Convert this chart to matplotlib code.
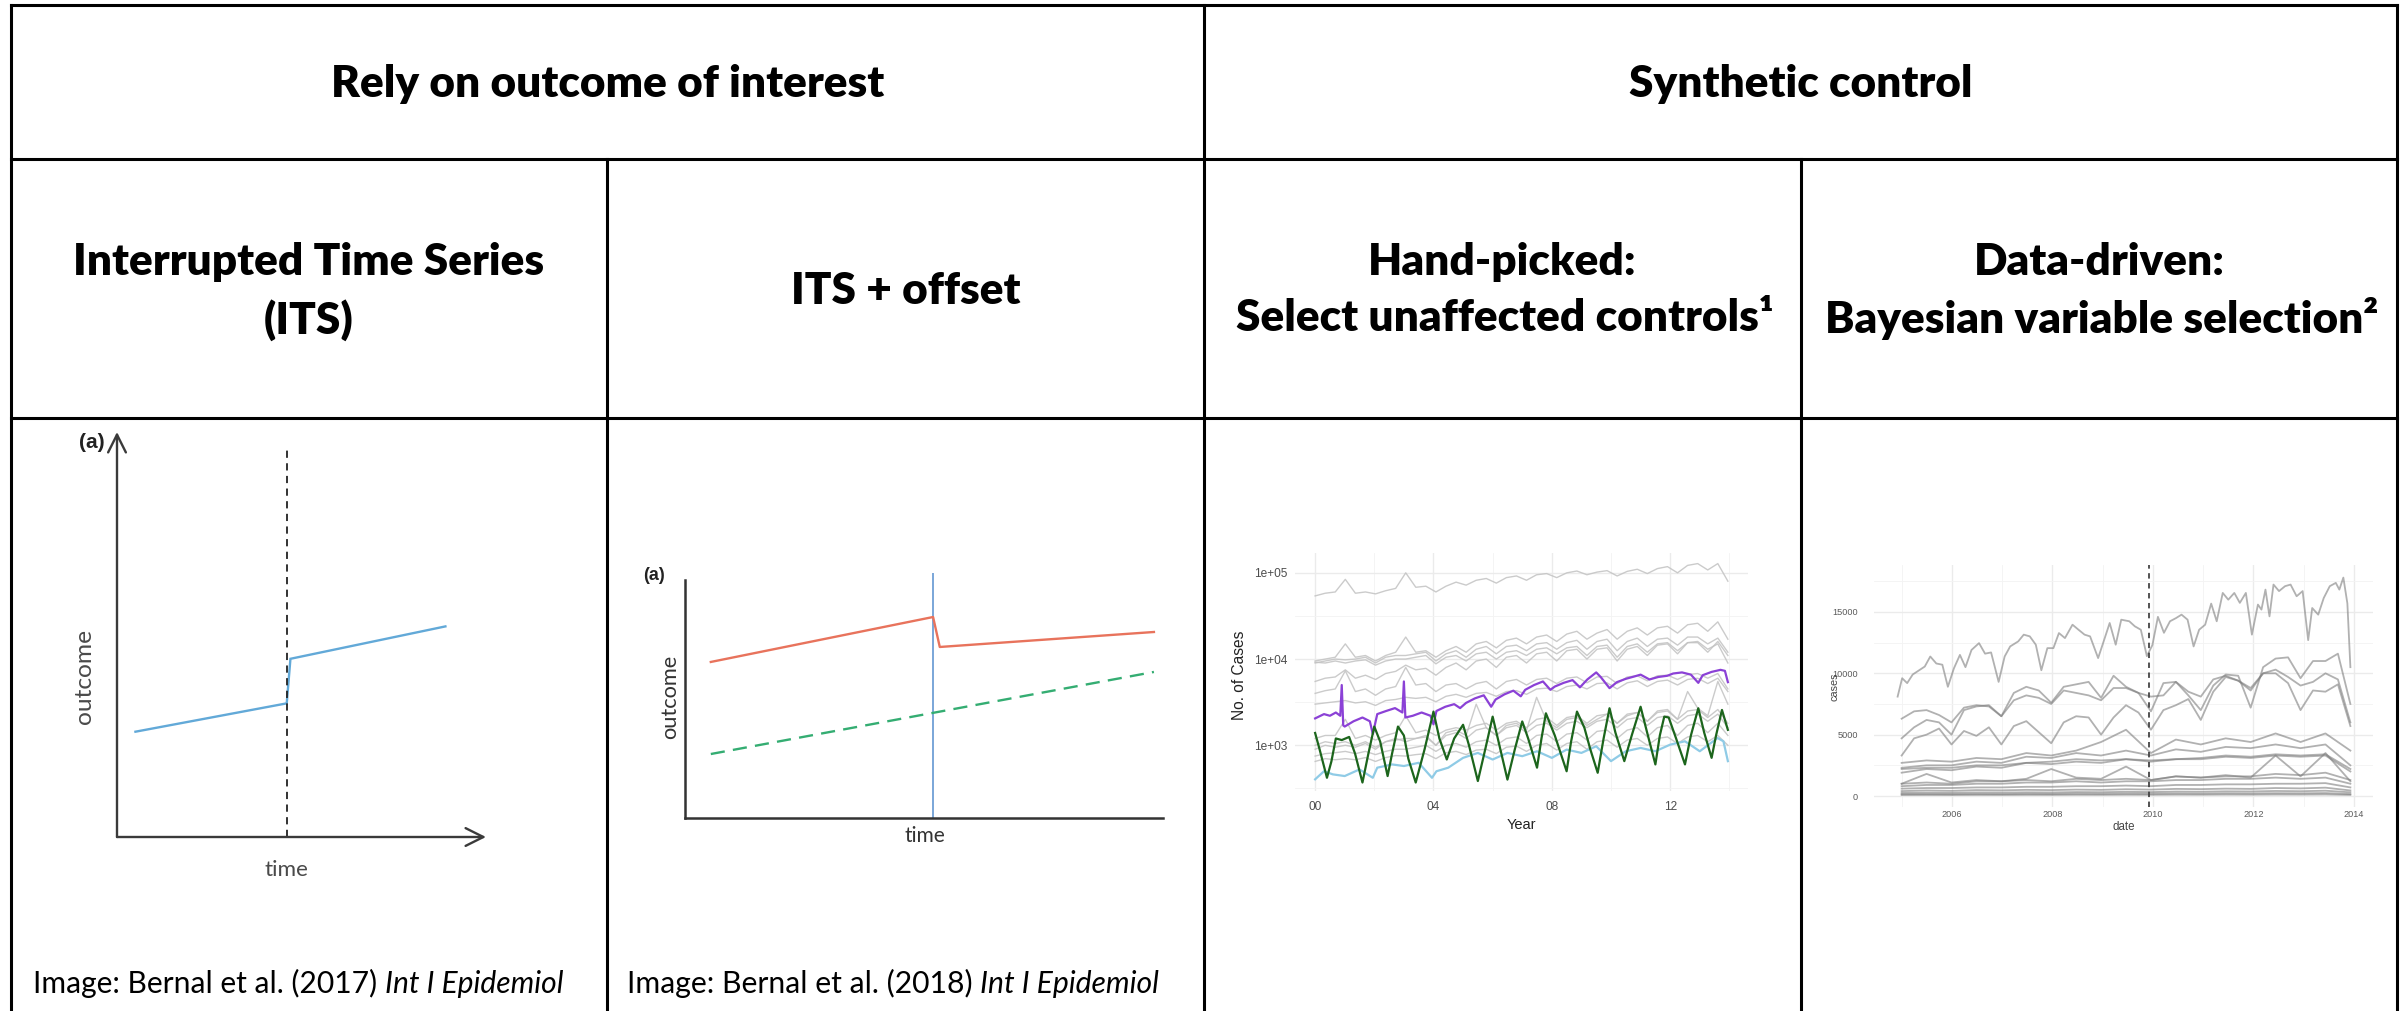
import numpy as np
import matplotlib
matplotlib.use("Agg")
import matplotlib.pyplot as plt
from matplotlib.lines import Line2D
from matplotlib.ticker import NullFormatter

# ---------------------------------------------------------------- data
# ITS schematic (arbitrary units)
its_time = [0.5, 4.6, 4.7, 8.9]
its_outcome = [2.6, 3.3, 4.4, 5.2]
its_break = 4.6
its_break_top = 9.6

# ITS + offset schematic
off_time = [0.54, 5.19, 5.33, 9.81]
off_outcome = [6.56, 8.45, 7.19, 7.82]
ctrl_time = [0.54, 9.81]
ctrl_outcome = [2.69, 6.14]
off_break = 5.19

# Hand-picked controls: monthly case counts (log scale), 2000-2013
hp_year_ticks = [2000, 2004, 2008, 2012]
hp_year_labels = ["00", "04", "08", "12"]
hp_case_ticks = [1e3, 1e4, 1e5]
hp_case_labels = ["1e+03", "1e+04", "1e+05"]

hp_controls = [
    [54000, 58000, 60000, 84000, 58000, 60000, 57000, 62000, 66000, 100000, 68000, 70000, 60000, 70000,
     78000, 72000, 82000, 86000, 76000, 88000, 92000, 82000, 95000, 98000, 88000, 100000, 105000, 95000,
     102000, 106000, 92000, 104000, 110000, 98000, 112000, 118000, 100000, 122000, 128000, 108000, 128000, 80000],
    [9500, 10000, 10500, 15000, 10500, 11000, 9500, 11000, 12000, 18000, 12000, 12500, 10500, 12500,
     14000, 12000, 15000, 16000, 13500, 16500, 17500, 15000, 18000, 19000, 16000, 19500, 21000, 17000,
     20000, 22000, 17000, 21000, 23000, 19000, 23000, 24000, 20000, 25000, 26000, 21000, 27000, 17000],
    [9000, 9500, 10000, 9800, 10000, 10500, 9000, 10500, 11000, 11000, 11500, 12000, 9500, 11500,
     12500, 10500, 13000, 14000, 11500, 14000, 14500, 12500, 15000, 15500, 13000, 15500, 16500, 13000,
     16000, 17000, 12500, 16000, 17500, 14000, 17000, 17500, 14500, 18000, 18000, 15000, 17500, 12000],
    [9200, 9000, 9500, 9000, 9500, 9800, 8500, 9500, 10000, 10000, 10500, 11000, 8800, 10500,
     11000, 9500, 11500, 12000, 10000, 12000, 12500, 11000, 13000, 13500, 11500, 13500, 14000, 11000,
     14000, 14500, 10500, 14000, 15000, 12000, 15000, 15500, 12500, 15500, 16000, 13000, 15000, 9000],
    [5500, 6000, 6200, 7500, 6000, 6500, 5800, 6800, 7200, 8500, 7500, 7800, 6500, 8000,
     9000, 7500, 9500, 10000, 8000, 10500, 11000, 9000, 11500, 12000, 9500, 12500, 13000, 10000,
     13000, 13500, 9500, 13000, 14000, 11000, 14500, 15000, 11500, 15500, 15500, 12000, 16000, 11000],
    [4000, 4300, 4500, 7300, 4200, 4500, 3800, 4500, 4800, 8000, 5000, 5200, 4200, 5000,
     5200, 4500, 5200, 5500, 4500, 5500, 5800, 5000, 5800, 6000, 5200, 6000, 6200, 5300,
     6200, 6300, 5200, 6200, 6400, 5600, 6400, 6500, 5800, 6600, 6800, 6000, 6800, 4500],
    [3000, 3100, 3200, 3300, 3100, 3200, 2900, 3300, 3400, 3600, 3500, 3600, 3200, 3700,
     3900, 3600, 4000, 4100, 3700, 4200, 4300, 3900, 4500, 4600, 4200, 4800, 5000, 4500,
     5200, 5300, 4500, 5300, 5600, 4800, 5500, 5700, 5000, 5800, 6000, 5200, 6000, 4200],
    [1200, 1300, 1300, 2000, 1200, 1300, 1150, 1300, 1400, 2200, 1400, 1500, 1300, 1500,
     1600, 1500, 1700, 1800, 1500, 1800, 1900, 1600, 2000, 2100, 1700, 2100, 2200, 1800,
     2200, 2300, 1800, 2300, 2400, 1900, 2400, 2500, 2000, 2500, 2600, 2100, 2600, 1800],
    [1000, 1100, 1050, 1100, 1000, 1100, 950, 1100, 1150, 1200, 1200, 1250, 1000, 1300,
     1400, 1200, 1500, 1600, 1300, 1600, 1700, 1400, 1700, 1800, 1500, 1800, 1900, 1600,
     1900, 2000, 1600, 2000, 2100, 1700, 2100, 2200, 1800, 2200, 2300, 1900, 2300, 1600],
    [900, 1000, 950, 1000, 950, 1050, 900, 1100, 1200, 1100, 1200, 1300, 1000, 1400,
     1500, 1300, 3000, 1600, 1300, 1700, 1800, 1500, 3600, 1900, 1600, 2000, 2100, 1700,
     2000, 2300, 1800, 2200, 2400, 1900, 2500, 2600, 2000, 4200, 2700, 2200, 5500, 3000],
    [750, 800, 820, 850, 800, 850, 780, 850, 900, 900, 950, 1000, 850, 1000,
     1050, 950, 1100, 1150, 1000, 1200, 1250, 1050, 1300, 1350, 1100, 1350, 1400, 1150,
     1450, 1500, 1200, 1500, 1600, 1250, 1600, 1700, 1300, 1700, 1800, 1400, 1800, 1300],
    [650, 700, 680, 700, 680, 720, 650, 720, 760, 750, 780, 800, 700, 820,
     850, 780, 880, 900, 800, 950, 980, 850, 1000, 1050, 880, 1050, 1100, 900,
     1100, 1150, 950, 1150, 1200, 1000, 1200, 1250, 1050, 1250, 1300, 1100, 1300, 1000],
]

purple_years = [2000.0, 2000.3, 2000.5, 2000.7, 2000.85, 2000.9, 2000.95, 2001.0, 2001.3, 2001.6,
                2001.85, 2001.95, 2002.1, 2002.4, 2002.7, 2002.95, 2003.0, 2003.05, 2003.3, 2003.6,
                2003.9, 2004.0, 2004.1, 2004.4, 2004.7, 2004.9, 2005.1, 2005.4, 2005.7, 2005.95,
                2006.1, 2006.4, 2006.7, 2006.95, 2007.1, 2007.4, 2007.7, 2007.95, 2008.1, 2008.4,
                2008.7, 2008.95, 2009.2, 2009.5, 2009.65, 2009.95, 2010.2, 2010.5, 2010.8, 2011.0,
                2011.3, 2011.6, 2011.9, 2012.1, 2012.4, 2012.7, 2012.95, 2013.1, 2013.4, 2013.7,
                2013.85, 2013.95]
purple_cases = [2050, 2300, 2200, 2400, 2200, 5000, 1700, 1650, 1900, 2100,
                1900, 1350, 2300, 2500, 2700, 2400, 5500, 2100, 2200, 2400,
                2200, 1750, 2500, 2800, 3000, 2700, 3100, 3500, 3800, 2800,
                3400, 3900, 4300, 3700, 4400, 5000, 5500, 4400, 4800, 5300,
                5700, 4700, 5800, 7000, 6200, 4600, 5400, 5900, 6300, 6600,
                5800, 6200, 6400, 6800, 7000, 6600, 5300, 6500, 7100, 7500,
                7300, 5400]

green_years = [2000.0, 2000.15, 2000.4, 2000.55, 2000.7, 2000.9, 2001.15, 2001.35, 2001.6, 2001.8,
               2002.0, 2002.2, 2002.45, 2002.6, 2002.8, 2003.0, 2003.15, 2003.4, 2003.7, 2004.0,
               2004.2, 2004.45, 2004.7, 2005.0, 2005.2, 2005.5, 2005.75, 2006.0, 2006.2, 2006.5,
               2006.75, 2007.0, 2007.2, 2007.5, 2007.65, 2007.8, 2008.1, 2008.5, 2008.65, 2008.85,
               2009.1, 2009.3, 2009.55, 2009.75, 2009.95, 2010.15, 2010.45, 2010.7, 2011.0, 2011.2,
               2011.5, 2011.65, 2011.8, 2011.95, 2012.2, 2012.5, 2012.7, 2012.95, 2013.15, 2013.4,
               2013.55, 2013.75, 2013.95]
green_cases = [1390, 900, 420, 650, 1200, 1150, 1250, 800, 370, 800,
               1650, 1100, 440, 800, 1650, 1300, 700, 370, 900, 2460,
               1200, 685, 1200, 1730, 1000, 385, 900, 2150, 1100, 400,
               900, 1890, 1200, 550, 1200, 2350, 1300, 500, 1100, 2460,
               1600, 900, 480, 1200, 2690, 1400, 655, 1300, 2800, 1500,
               600, 1300, 2150, 2100, 1200, 600, 1300, 2690, 1400, 715,
               1300, 2570, 1510]

blue_years = [2000.0, 2000.3, 2000.6, 2001.0, 2001.5, 2001.95, 2002.1, 2002.6, 2003.0, 2003.5,
              2003.95, 2004.1, 2004.5, 2005.0, 2005.5, 2006.0, 2006.5, 2007.0, 2007.5, 2008.0,
              2008.5, 2009.0, 2009.5, 2010.0, 2010.5, 2011.0, 2011.5, 2012.0, 2012.5, 2013.0,
              2013.6, 2013.8, 2013.95]
blue_cases = [403, 500, 460, 440, 525, 420, 550, 600, 575, 627,
              420, 500, 550, 715, 816, 684, 816, 748, 853, 715,
              892, 816, 975, 655, 853, 932, 853, 1018, 1113, 853,
              1215, 1113, 655]

# Data-driven controls: monthly case counts, 2005-2013
dd_year_ticks = [2006, 2008, 2010, 2012, 2014]
dd_case_ticks = [0, 5000, 10000, 15000]
dd_intervention = 2009.92

dd_top_years = [2004.92, 2005.01, 2005.11, 2005.22, 2005.46, 2005.57, 2005.69, 2005.81, 2005.92,
                2006.04, 2006.16, 2006.27, 2006.39, 2006.54, 2006.66, 2006.78, 2006.93,
                2007.05, 2007.16, 2007.32, 2007.43, 2007.55, 2007.67, 2007.78, 2007.90,
                2008.02, 2008.13, 2008.25, 2008.40, 2008.52, 2008.64, 2008.75, 2008.91,
                2009.02, 2009.14, 2009.26, 2009.37, 2009.53, 2009.64, 2009.76, 2009.88, 2009.99,
                2010.10, 2010.22, 2010.34, 2010.46, 2010.57, 2010.69, 2010.81, 2010.92,
                2011.04, 2011.16, 2011.27, 2011.39, 2011.50, 2011.62, 2011.73, 2011.85, 2011.97,
                2012.09, 2012.16, 2012.24, 2012.32, 2012.40, 2012.51, 2012.63, 2012.74, 2012.86, 2012.98,
                2013.09, 2013.17, 2013.29, 2013.40, 2013.52, 2013.64, 2013.71, 2013.79, 2013.87, 2013.93]
dd_top_cases = [8100, 9600, 9200, 9900, 10550, 11370, 10800, 10700, 8900,
                10400, 11500, 10500, 11900, 12460, 11600, 11700, 9300,
                11370, 12190, 12600, 13150, 13010, 12330, 10250, 12050,
                12050, 13280, 12870, 13960, 13550, 13150, 13010, 11240,
                12600, 14100, 12330, 14370, 14240, 13830, 13550, 11400, 12300,
                14600, 13300, 14240, 14500, 14780, 14370, 12190, 13550,
                13960, 15680, 14240, 16550, 16000, 16550, 15740, 16550, 13150,
                15600, 15190, 16820, 14640, 17230, 16700, 17100, 17230, 16280, 16700,
                12700, 15320, 14780, 16140, 17100, 17370, 16820, 17800, 15700, 10500]

# quarterly series
dd_mid = [
    [6300, 6900, 7000, 6600, 6000, 7200, 7400, 7300, 6500, 8400, 8900, 8600, 7600, 8900, 9100, 9300,
     8000, 9800, 8900, 8400, 6900, 9200, 9300, 8200, 7000, 9000, 9900, 9800, 7200, 10500, 11200, 11300,
     9600, 11000, 11000, 11600, 7500],
    [4700, 5600, 6200, 6000, 5000, 7000, 7300, 7400, 6500, 7800, 8200, 8000, 7500, 8600, 8400, 8200,
     7800, 8800, 8800, 8400, 8100, 8200, 9300, 8500, 8100, 9500, 9800, 9400, 8800, 10000, 10300, 9700,
     9000, 9300, 10000, 9500, 6000],
    [3300, 4700, 5000, 5500, 4200, 5300, 4900, 5600, 4200, 5700, 6100, 5200, 4300, 6000, 6500, 6400,
     5000, 6400, 7400, 6800, 5400, 7000, 7400, 7900, 6200, 8500, 9700, 9400, 8600, 10000, 10000, 9200,
     7000, 8600, 8500, 9100, 5700],
]

# half-yearly series
dd_low = [
    [2700, 2900, 2800, 3100, 3000, 3500, 3300, 3700, 4400, 5400, 3500, 4600, 4200, 4700, 4400, 5100, 4400, 5100, 3700],
    [2300, 2500, 2500, 2800, 2700, 3200, 3100, 3500, 3300, 3700, 3300, 3800, 3600, 4000, 3900, 4200, 3900, 4200, 2500],
    [2200, 2300, 2300, 2500, 2500, 2700, 2800, 3000, 2900, 3000, 2900, 3000, 3100, 3300, 3200, 3400, 3300, 3400, 2200],
    [1900, 2200, 2100, 2400, 2300, 2700, 2600, 2800, 2700, 3000, 2800, 3000, 3000, 3200, 3100, 3300, 3200, 3300, 2000],
    [1000, 1800, 1100, 1300, 1200, 1400, 2200, 1500, 1400, 2400, 1300, 1600, 1500, 1700, 1500, 3300, 1600, 3500, 1200],
    [1000, 1100, 1000, 1200, 1200, 1300, 1200, 1400, 1300, 1400, 1300, 1600, 1500, 1600, 1600, 1800, 1700, 1900, 1300],
    [800, 900, 900, 1000, 1000, 1100, 1100, 1200, 1100, 1200, 1200, 1300, 1300, 1400, 1400, 1500, 1400, 1500, 1000],
    [600, 650, 650, 700, 700, 750, 750, 800, 800, 850, 800, 900, 900, 950, 950, 1000, 1000, 1050, 700],
    [400, 450, 420, 480, 460, 500, 480, 520, 500, 550, 520, 580, 560, 600, 580, 650, 620, 680, 450],
    [250, 270, 260, 290, 280, 300, 290, 320, 310, 340, 320, 360, 350, 380, 370, 410, 390, 430, 300],
    [150, 160, 150, 170, 160, 180, 170, 190, 180, 200, 190, 210, 200, 220, 210, 230, 220, 240, 160],
    [80, 85, 80, 90, 85, 95, 90, 100, 95, 105, 100, 110, 105, 115, 110, 120, 115, 125, 90],
]

# ---------------------------------------------------------------- figure
W, H = 2405, 1011
fig = plt.figure(figsize=(W / 100, H / 100), dpi=100)
fig.patch.set_facecolor("white")
renderer = fig.canvas.get_renderer()

HEAD_FONT = ["Lato", "DejaVu Sans"]
BODY_FONT = ["Lato", "DejaVu Sans"]
PLOT_FONT = ["Liberation Sans", "DejaVu Sans"]


def fx(x):
    return x / W


def fy(y):
    return 1 - y / H


def axes_px(left, top, right, bottom):
    return fig.add_axes([fx(left), fy(bottom), (right - left) / W, (bottom - top) / H])


def extent(t, which="width"):
    bb = t.get_window_extent(renderer)
    return bb.width if which == "width" else bb.height


def fit(t, target, which="width"):
    t.set_fontsize(t.get_fontsize() * target / extent(t, which))


# ---------------------------------------------------------------- table grid
def hline(y, x0, x1, lw=2.2):
    fig.add_artist(Line2D([fx(x0), fx(x1)], [fy(y), fy(y)], color="black", lw=lw,
                          solid_capstyle="projecting"))


def vline(x, y0, y1, lw=2.2):
    fig.add_artist(Line2D([fx(x), fx(x)], [fy(y0), fy(y1)], color="black", lw=lw,
                          solid_capstyle="projecting"))


L, R, T, B = 11, 2397, 5, 1011
C1, C2, C3 = 607, 1204, 1801
R1, R2 = 159, 418
hline(T, L, R)
hline(R1, L, R)
hline(R2, L, R)
vline(L, T, B)
vline(R, T, B)
vline(C2, T, B)
vline(C1, R1, B)
vline(C3, R1, B)

# ---------------------------------------------------------------- headers
HEAD_WEIGHT = "heavy"
ref = fig.text(fx((L + C2) / 2), fy(84), "Rely on outcome of interest", ha="center", va="center",
               fontsize=30, fontweight=HEAD_WEIGHT, family=HEAD_FONT)
fit(ref, 551)
hs = ref.get_fontsize()


def head(x, y, s):
    return fig.text(fx(x), fy(y), s, ha="center", va="center", fontsize=hs,
                    fontweight=HEAD_WEIGHT, family=HEAD_FONT)


head((C2 + R) / 2, 84, "Synthetic control")
head((L + C1) / 2, 262, "Interrupted Time Series")
head((L + C1) / 2, 320, "(ITS)")
head((C1 + C2) / 2, 291, "ITS + offset")
head((C2 + C3) / 2, 262, "Hand-picked:")
head((C2 + C3) / 2 + 2, 318, "Select unaffected controls\u00b9")
head((C3 + R) / 2, 262, "Data-driven:")
head((C3 + R) / 2 + 3, 318, "Bayesian variable selection\u00b2")


# ---------------------------------------------------------------- captions
def caption(x, y, plain, ital, target):
    t1 = fig.text(fx(x), fy(y), plain, ha="left", va="baseline", fontsize=20, family=BODY_FONT)
    t2 = fig.text(fx(x), fy(y), ital, ha="left", va="baseline", fontsize=20, family=BODY_FONT,
                  style="italic")
    fs = 20 * 100 / 72
    total = extent(t1) + 0.26 * fs + extent(t2)
    k = target / total
    for t in (t1, t2):
        t.set_fontsize(20 * k)
    w1 = extent(t1)
    t2.set_x(fx(x + w1 + 0.26 * fs * k))


caption(33, 993, "Image: Bernal et al. (2017)", "Int I Epidemiol", 531)
caption(627, 993, "Image: Bernal et al. (2018)", "Int I Epidemiol", 533)

# ---------------------------------------------------------------- ITS panel
ax1 = axes_px(117, 432, 486, 837)
ax1.set_xlim(0, 10)
ax1.set_ylim(0, 10)
ax1.axis("off")
ax1.plot(its_time, its_outcome, color="#62a9d8", lw=1.7, solid_joinstyle="miter")
ax1.plot([its_break, its_break], [0, its_break_top], color="#222222", lw=1.3, ls=(0, (4, 3)))
arrow = dict(arrowstyle="->", color="#3a3a3a", lw=1.7, mutation_scale=32, shrinkA=0, shrinkB=0)
ax1.annotate("", xy=(1, 0), xytext=(0, 0), xycoords="axes fraction", arrowprops=arrow)
ax1.annotate("", xy=(0, 1), xytext=(0, 0), xycoords="axes fraction", arrowprops=arrow)

t = fig.text(fx(84), fy(676), "outcome", rotation=90, ha="center", va="center",
             fontsize=16, family=BODY_FONT, color="#4a4a4a")
fit(t, 95, "height")
t = fig.text(fx(286), fy(870), "time", ha="center", va="center", fontsize=16,
             family=BODY_FONT, color="#4a4a4a")
fit(t, 44)
fig.text(fx(92), fy(442), "(a)", ha="center", va="center", fontsize=15, fontweight="bold",
         family=PLOT_FONT, color="#222222")

# ---------------------------------------------------------------- ITS + offset panel
ax2 = axes_px(685, 573, 1163, 818)
ax2.set_xlim(0, 10)
ax2.set_ylim(0, 10.3)
for side in ("top", "right"):
    ax2.spines[side].set_visible(False)
for side in ("left", "bottom"):
    ax2.spines[side].set_color("#333333")
    ax2.spines[side].set_linewidth(1.8)
ax2.spines["left"].set_bounds(0, 10.0)
ax2.set_xticks([])
ax2.set_yticks([])
ax2.patch.set_alpha(0)
ax2.axvline(off_break, color="#6f9fd6", lw=1.3)
ax2.plot(off_time, off_outcome, color="#e8735c", lw=1.7)
ax2.plot(ctrl_time, ctrl_outcome, color="#34ad72", lw=1.7, ls=(0, (6, 3.5)))

t = fig.text(fx(670), fy(697), "outcome", rotation=90, ha="center", va="center",
             fontsize=16, family=BODY_FONT, color="#333333")
fit(t, 85, "height")
t = fig.text(fx(925), fy(836), "time", ha="center", va="center", fontsize=16,
             family=BODY_FONT, color="#333333")
fit(t, 41)
fig.text(fx(654), fy(575), "(a)", ha="center", va="center", fontsize=13, fontweight="bold",
         family=PLOT_FONT, color="#222222")


# ---------------------------------------------------------------- minimal ggplot-like axes
def minimal(ax):
    for s in ax.spines.values():
        s.set_visible(False)
    ax.set_axisbelow(True)
    ax.tick_params(which="both", length=0)
    ax.grid(which="major", color="#ebebeb", lw=1.0)
    ax.grid(which="minor", color="#f3f3f3", lw=0.6)
    ax.xaxis.set_minor_formatter(NullFormatter())
    ax.yaxis.set_minor_formatter(NullFormatter())


# ---------------------------------------------------------------- hand-picked panel
ax3 = axes_px(1295, 553, 1748, 791)
ax3.set_yscale("log")
ax3.set_xlim(1999.32, 2014.63)
ax3.set_ylim(10 ** 2.47, 10 ** 5.23)
minimal(ax3)
ax3.set_xticks(hp_year_ticks, hp_year_labels)
ax3.set_xticks([2002, 2006, 2010, 2014], minor=True)
ax3.set_yticks(hp_case_ticks, hp_case_labels)
ax3.set_yticks([10 ** 2.5, 10 ** 3.5, 10 ** 4.5], minor=True)
ax3.tick_params(axis="y", pad=5.8, labelsize=8.6, labelcolor="#4d4d4d")
ax3.tick_params(axis="x", pad=7.5, labelsize=8.6, labelcolor="#4d4d4d")
for lab in ax3.get_xticklabels() + ax3.get_yticklabels():
    lab.set_family(PLOT_FONT)

hp_years = np.linspace(2000.0, 2013.95, len(hp_controls[0]))
for series in hp_controls:
    ax3.plot(hp_years, series, color="#c2c2c2", lw=1.0, alpha=0.85)
ax3.plot(purple_years, purple_cases, color="#8b41d6", lw=1.6, zorder=4)
ax3.plot(blue_years, blue_cases, color="#8fcbe6", lw=1.6, zorder=4)
ax3.plot(green_years, green_cases, color="#1c651c", lw=1.6, zorder=5)

fig.text(fx(1240), fy(675), "No. of Cases", rotation=90, ha="center", va="center",
         fontsize=11.2, family=PLOT_FONT, color="#222222")
fig.text(fx(1521), fy(825), "Year", ha="center", va="center",
         fontsize=10.5, family=PLOT_FONT, color="#222222")

# ---------------------------------------------------------------- data-driven panel
ax4 = axes_px(1874, 565, 2373, 807)
ax4.set_xlim(2004.45, 2014.38)
ax4.set_ylim(-896, 18826)
minimal(ax4)
ax4.set_xticks(dd_year_ticks, [str(v) for v in dd_year_ticks])
ax4.set_xticks([2005, 2007, 2009, 2011, 2013], minor=True)
ax4.set_yticks(dd_case_ticks, [str(v) for v in dd_case_ticks])
ax4.set_yticks([2500, 7500, 12500, 17500], minor=True)
ax4.tick_params(axis="y", pad=11.5, labelsize=6.6, labelcolor="#5a5a5a")
ax4.tick_params(axis="x", pad=2.5, labelsize=6.6, labelcolor="#5a5a5a")
for lab in ax4.get_xticklabels() + ax4.get_yticklabels():
    lab.set_family(PLOT_FONT)

grey = dict(color="#7d7d7d", lw=1.3, alpha=0.6)
ax4.plot(dd_top_years, dd_top_cases, **grey)
q_years = np.linspace(2005.0, 2013.93, len(dd_mid[0]))
for series in dd_mid:
    ax4.plot(q_years, series, **grey)
h_years = np.linspace(2005.0, 2013.93, len(dd_low[0]))
for series in dd_low:
    ax4.plot(h_years, series, **grey)
ax4.axvline(dd_intervention, color="#444444", lw=1.3, ls=(0, (3, 2.5)), zorder=5)

fig.text(fx(1834), fy(687), "cases", rotation=90, ha="center", va="center",
         fontsize=7.8, family=PLOT_FONT, color="#444444")
fig.text(fx(2124), fy(827), "date", ha="center", va="center",
         fontsize=8.3, family=PLOT_FONT, color="#444444")

fig.savefig("out.png", dpi=100, facecolor="white")
